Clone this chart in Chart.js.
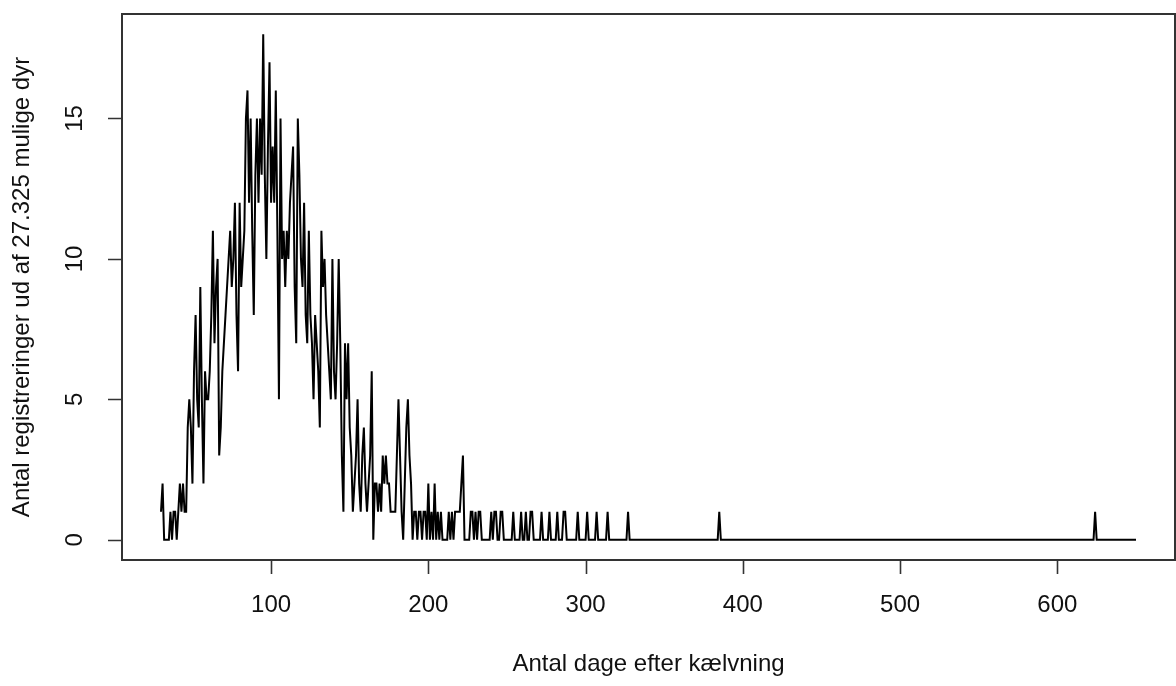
<!DOCTYPE html>
<html lang="da">
<head>
<meta charset="utf-8">
<title>Registreringer efter kælvning</title>
<script src="https://cdn.jsdelivr.net/npm/chart.js@4/dist/chart.umd.min.js"></script>
<style>
  html, body { margin: 0; padding: 0; background: #fff; }
  #chart { display: block; }
</style>
</head>
<body>
<canvas id="chart" width="1176" height="686"></canvas>
<script>
/* ---------- Data ---------- */
// antal registreringer pr. dag, fra dag 30 til dag 328
const firstDay = 30;
const dailyCounts = [
  1,2,0,0,0,0,1,0,1,1,        // 30-39
  0,1,2,1,2,1,1,4,5,4,        // 40-49
  2,6,8,5,4,9,5,2,6,5,        // 50-59
  5,6,8,11,7,9,10,3,4,6,      // 60-69
  7,8,9,10,11,9,10,12,8,6,    // 70-79
  12,9,10,11,15,16,12,15,11,8,// 80-89
  13,15,12,15,13,18,13,10,14,17, // 90-99
  12,14,12,16,11,5,15,10,11,9,   // 100-109
  11,10,12,13,14,9,7,15,13,10,   // 110-119
  9,12,8,7,11,8,7,5,8,7,      // 120-129
  6,4,11,9,10,8,7,6,5,10,     // 130-139
  6,5,7,10,7,3,1,7,5,7,       // 140-149
  4,3,1,2,3,5,2,1,3,4,        // 150-159
  2,1,2,3,6,0,2,2,1,2,        // 160-169
  1,3,2,3,2,2,1,1,1,1,        // 170-179
  3,5,3,1,0,2,4,5,3,2,        // 180-189
  0,1,1,0,1,1,0,1,1,0,        // 190-199
  2,0,1,0,2,0,1,0,1,0,        // 200-209
  0,0,0,1,0,1,0,1,1,1,        // 210-219
  1,2,3,0,0,0,0,1,1,0,        // 220-229
  1,0,1,1,0,0,0,0,0,0,        // 230-239
  1,0,1,1,0,0,1,1,0,0,        // 240-249
  0,0,0,0,1,0,0,0,0,1,        // 250-259
  0,0,1,0,0,1,1,0,0,0,        // 260-269
  0,0,1,0,0,0,0,1,0,0,        // 270-279
  0,0,1,0,0,0,1,1,0,0,        // 280-289
  0,0,0,0,0,1,0,0,0,0,        // 290-299
  0,1,0,0,0,0,0,1,0,0,        // 300-309
  0,0,0,0,1,0,0,0,0,0,        // 310-319
  0,0,0,0,0,0,0,1,0           // 320-328
];
// halen: kun de dage hvor linjen knækker (resten er 0)
const tailDays   = [384, 385, 386, 623, 624, 625, 650];
const tailCounts = [0,   1,   0,   0,   1,   0,   0];

const xTicks = [100, 200, 300, 400, 500, 600];
const yTicks = [0, 5, 10, 15];

const xTitle = 'Antal dage efter kælvning';
const yTitle = 'Antal registreringer ud af 27.325 mulige dyr';

/* ---------- Points ---------- */
const points = dailyCounts.map((v, i) => ({ x: firstDay + i, y: v }))
  .concat(tailDays.map((d, i) => ({ x: d, y: tailCounts[i] })));

/* ---------- Axes / text (R-style base plot) ---------- */
const FONT = '24px "Liberation Sans", Arial, sans-serif';

const rFrame = {
  id: 'rFrame',
  afterDraw(chart) {
    const { ctx, chartArea: a, scales } = chart;
    const xs = scales.x, ys = scales.y;
    ctx.save();

    // box
    ctx.strokeStyle = '#333';
    ctx.lineWidth = 2;
    ctx.strokeRect(a.left, a.top, a.right - a.left, a.bottom - a.top);

    // ticks
    ctx.lineWidth = 1.6;
    ctx.beginPath();
    xTicks.forEach(v => {
      const px = Math.round(xs.getPixelForValue(v)) + 0.5;
      ctx.moveTo(px, a.bottom); ctx.lineTo(px, a.bottom + 14);
    });
    yTicks.forEach(v => {
      const py = Math.round(ys.getPixelForValue(v)) + 0.5;
      ctx.moveTo(a.left, py); ctx.lineTo(a.left - 14, py);
    });
    ctx.stroke();

    // tick labels
    ctx.fillStyle = '#111';
    ctx.font = FONT;
    ctx.textAlign = 'center';
    ctx.textBaseline = 'middle';
    xTicks.forEach(v => ctx.fillText(String(v), xs.getPixelForValue(v), a.bottom + 45));
    yTicks.forEach(v => {
      ctx.save();
      ctx.translate(a.left - 47, ys.getPixelForValue(v));
      ctx.rotate(-Math.PI / 2);
      ctx.fillText(String(v), 0, 0);
      ctx.restore();
    });

    // titles
    ctx.fillText(xTitle, (a.left + a.right) / 2, a.bottom + 104);
    ctx.save();
    ctx.translate(22, (a.top + a.bottom) / 2);
    ctx.rotate(-Math.PI / 2);
    ctx.fillText(yTitle, 0, 0);
    ctx.restore();

    ctx.restore();
  }
};

/* ---------- Chart ---------- */
new Chart(document.getElementById('chart'), {
  type: 'line',
  data: {
    datasets: [{
      data: points,
      borderColor: '#000',
      borderWidth: 2,
      pointRadius: 0,
      tension: 0,
      fill: false
    }]
  },
  options: {
    responsive: false,
    animation: false,
    devicePixelRatio: 1,
    layout: { padding: { top: 14, right: 1, left: 0, bottom: 0 } },
    plugins: { legend: { display: false }, tooltip: { enabled: false } },
    scales: {
      x: {
        type: 'linear',
        min: 5.2,
        max: 674.8,
        grid: { display: false },
        border: { display: false },
        ticks: { display: false },
        afterBuildTicks: (s) => { s.ticks = xTicks.map(v => ({ value: v })); },
        afterFit: (s) => { s.height = 126; }
      },
      y: {
        type: 'linear',
        min: -0.72,
        max: 18.72,
        grid: { display: false },
        border: { display: false },
        ticks: { display: false },
        afterBuildTicks: (s) => { s.ticks = yTicks.map(v => ({ value: v })); },
        afterFit: (s) => { s.width = 122; }
      }
    }
  },
  plugins: [rFrame]
});
</script>
</body>
</html>
